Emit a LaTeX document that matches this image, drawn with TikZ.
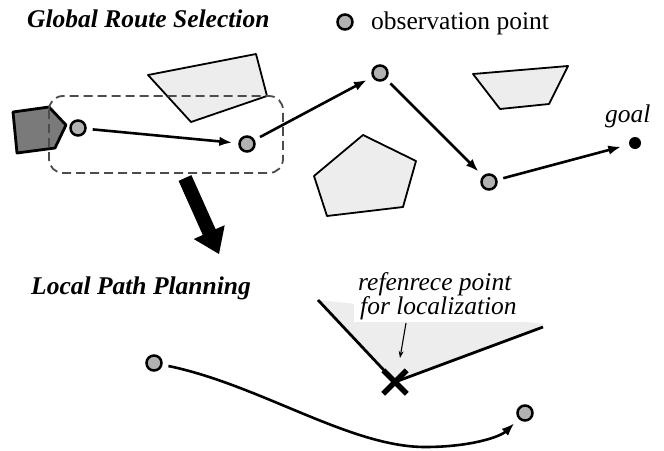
\documentclass[tikz,border=0pt]{standalone}
\usepackage{fontspec}
\setmainfont{Liberation Serif}
\usetikzlibrary{arrows.meta,shapes.misc}
\begin{document}
\begin{tikzpicture}[x=1pt,y=-1pt,
  obs/.style={circle, draw=black, fill=black!30, line width=2.5pt, minimum size=15pt, inner sep=0pt},
  conn/.style={line width=2.6pt, -{Latex[length=13pt,width=9.5pt]}, shorten <=6pt, shorten >=6pt},
  obst/.style={draw=black, fill=black!7, line width=1.8pt, line join=round},
  lbl/.style={inner sep=0pt, font=\fontsize{25.5}{25}\selectfont},
  dbox/.style={draw=black!70, line width=1.8pt, dash pattern=on 9pt off 5pt, rounded corners=14pt}
]
\useasboundingbox (0,0) rectangle (664,450);

% titles and legend
\node[lbl, anchor=base west] (t1) at (27,27) {\bfseries\itshape Global Route Selection};
\node[obs] (leg) at (345,22) {};
\node[lbl, anchor=base west] (legt) at (371,29) {observation point};

% start polygon
\filldraw[fill=black!52, draw=black, line width=2.8pt, line join=round]
  (13,112) -- (49,107) -- (66,125) -- (55,148) -- (17,153) -- cycle;

% obstacles
\draw[obst] (148,75) -- (256,54) -- (267,96) -- (191,122) -- cycle;
\draw[obst] (473,74) -- (568,66) -- (549,104) -- (500,109) -- cycle;
\draw[obst] (363,135) -- (416,161) -- (403,207) -- (327,216) -- (314,176) -- cycle;

% dashed region
\draw[dbox] (49,96) rectangle (283,173);

% observation points
\node[obs] (p1) at (78,128) {};
\node[obs] (p2) at (247,144) {};
\node[obs] (p3) at (380,73) {};
\node[obs] (p4) at (489,182) {};
\node[circle, fill=black, minimum size=12pt, inner sep=0pt] (goal) at (635,143) {};
\node[lbl, anchor=base west] (goalt) at (605,122) {\itshape goal};

\draw[conn] (p1) -- (p2);
\draw[conn] (p2) -- (p3);
\draw[conn] (p3) -- (p4);
\draw[conn, shorten >=8pt] (p4) -- (goal);

% big arrow
\fill[black] (178.6,180.9) -- (191.4,175.1) -- (215.6,229.2) -- (224.7,225.2)
  -- (219,254) -- (193.7,239.0) -- (202.8,235.0) -- cycle;

% local path planning
\node[lbl, anchor=base west] (t2) at (31,294) {\bfseries\itshape Local Path Planning};

\coordinate (wl) at (318,300);
\coordinate (wr) at (543,327);
\coordinate (xc) at (395,382);
\fill[black!7] (wl) -- (545,324) -- (xc) -- cycle;
\node[lbl, fill=white, align=left, anchor=south west, inner xsep=4pt, inner ysep=2pt] (ref) at (354,322)
  {\itshape refenrece point\\[-1pt]\itshape\hspace{2pt}for localization};
\draw[line width=2.8pt, line join=miter] (wl) -- (xc) -- (wr);
\node[cross out, draw=black, line width=5.5pt, minimum size=18pt, inner sep=0pt] (xm) at (xc) {};

\coordinate (ra) at (406,323);
\coordinate (rb) at (400,358);
\draw[line width=1.1pt, -{Stealth[length=7pt,width=5pt]}] (ra) -- (rb);

\node[obs] (q1) at (154,363) {};
\node[obs] (q2) at (525,413) {};
\draw[conn] (q1) .. controls (260,385) and (350,447) .. (425,447)
  .. controls (470,447) and (500,437) .. (q2);
\end{tikzpicture}
\end{document}
